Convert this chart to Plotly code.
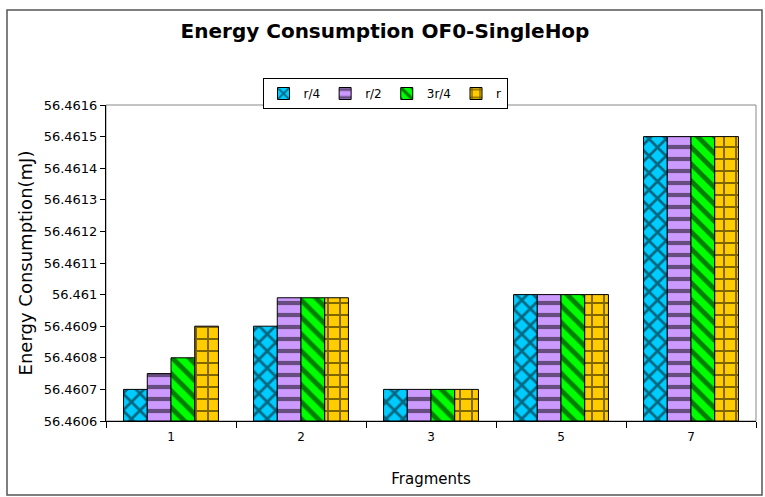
import plotly.graph_objects as go

categories = ["1", "2", "3", "5", "7"]
series_names = ["r/4", "r/2", "3r/4", "r"]
r4 = [56.4607, 56.4609, 56.4607, 56.4610, 56.4615]
r2 = [56.46075, 56.46099, 56.4607, 56.4610, 56.4615]
r34 = [56.4608, 56.46099, 56.4607, 56.4610, 56.4615]
r1 = [56.4609, 56.46099, 56.4607, 56.4610, 56.4615]
ytick_vals = [56.4606, 56.4607, 56.4608, 56.4609, 56.4610, 56.4611, 56.4612, 56.4613, 56.4614, 56.4615, 56.4616]
ytick_text = ["56.4606", "56.4607", "56.4608", "56.4609", "56.461", "56.4611", "56.4612", "56.4613", "56.4614", "56.4615", "56.4616"]

colors = ["#00CCFF", "#CC99FF", "#00FF00", "#FFCC00"]
shapes_p = ["x", "-", "\\", "+"]
sizes_p = [12, 12, 12, 12]
solid_p = [0.4, 0.35, 0.4, 0.3]
all_series = [r4, r2, r34, r1]

base = 56.4606
fig = go.Figure()
for name, vals, col, sh, sz, so in zip(series_names, all_series, colors, shapes_p, sizes_p, solid_p):
    fig.add_trace(go.Bar(
        x=categories, y=[v - base for v in vals], base=base, name=name,
        marker=dict(color=col, line=dict(color="black", width=1),
                    pattern=dict(shape=sh, fgcolor="black", bgcolor=col, size=sz, solidity=so, fillmode="overlay")),
    ))

L, R, T, B = 106, 9, 105, 76
pw, ph = 765 - L - R, 497 - T - B

def px_x(p):
    return (p - L) / pw

def px_y(p):
    return 1 - (p - T) / ph

fig.update_layout(
    width=765, height=497,
    margin=dict(l=L, r=R, t=T, b=B),
    paper_bgcolor="white", plot_bgcolor="white",
    font=dict(family="DejaVu Sans", size=13, color="black"),
    barmode="group", bargap=0.27, bargroupgap=0,
    title=dict(text="<b>Energy Consumption OF0-SingleHop</b>", x=385 / 765, xref="container",
               y=1 - 31 / 497, yanchor="middle", xanchor="center",
               font=dict(size=20, family="DejaVu Sans")),
    legend=dict(orientation="h", x=px_x(385), xanchor="center", y=px_y(78), yanchor="top",
                bordercolor="black", borderwidth=1, bgcolor="white",
                font=dict(size=12), itemwidth=30, tracegroupgap=0),
    xaxis=dict(type="category", showline=True, linecolor="black", linewidth=1,
               ticks="outside", tickson="boundaries", ticklen=6, tickcolor="black",
               tickfont=dict(size=12), ticklabelstandoff=5,
               title=dict(text="Fragments", font=dict(size=15), standoff=30), showgrid=False),
    yaxis=dict(range=[56.4606, 56.4616], tickvals=ytick_vals, ticktext=ytick_text,
               showline=True, linecolor="black", linewidth=1, ticks="outside", ticklen=5,
               tickcolor="black", showgrid=False, zeroline=False, tickfont=dict(size=13),
               title=dict(text="Energy Consumption(mJ)", font=dict(size=18), standoff=6)),
    shapes=[
        dict(type="rect", xref="paper", yref="paper", x0=0, x1=1, y0=0, y1=1,
             line=dict(color="#888888", width=1), layer="below"),
        dict(type="rect", xref="paper", yref="paper", x0=px_x(7), x1=px_x(762), y0=px_y(495), y1=px_y(10),
             line=dict(color="#555555", width=1.5), layer="below"),
    ],
)

fig.write_html("out.html")
